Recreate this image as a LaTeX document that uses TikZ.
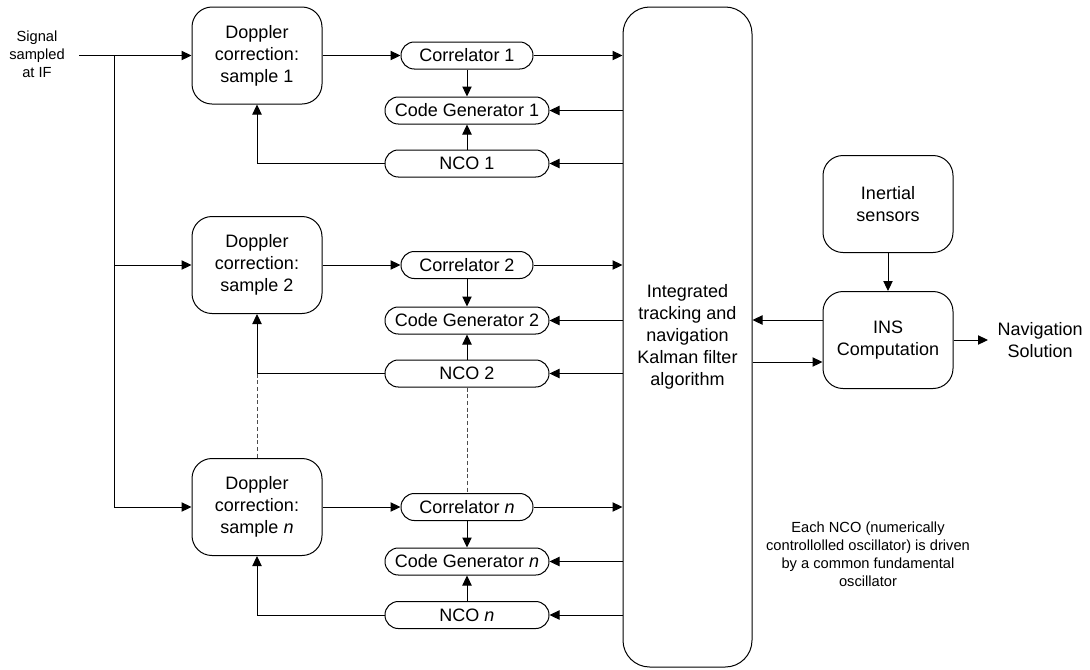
\documentclass[tikz,border=0pt]{standalone}
\usepackage{fontspec}
\setmainfont{Liberation Sans}
\usetikzlibrary{arrows.meta,calc}
\begin{document}
\begin{tikzpicture}[x=0.75pt,y=-0.75pt,
  line width=0.75pt,
  arr/.style={-{Triangle[length=7.5pt,width=7pt]}},
  bigfont/.style={font=\fontsize{13.5}{16.5}\selectfont},
  smallfont/.style={font=\fontsize{11}{13.5}\selectfont},
  rbox/.style={draw, rounded corners=15pt, minimum width=97.5pt, minimum height=72.75pt, align=center, inner sep=0pt, bigfont},
  pill/.style={draw, rounded corners=10pt, minimum height=20.25pt, inner sep=0pt, bigfont},
  dotl/.style={dashed, dash pattern=on 3pt off 2pt, draw=black!70, line width=0.6pt}]
\useasboundingbox (0,0) rectangle (1090,669);

% signal
\node[smallfont, align=center] (sig) at (37,54) {Signal\\sampled\\at IF};
\coordinate (sigstart) at (79,55.5);
\coordinate (br) at (114,55.5);

% Doppler boxes
\node[rbox] (d1) at (257,55.5) {Doppler\\correction:\\sample 1};
\node[rbox] (d2) at (257,265) {Doppler\\correction:\\sample 2};
\node[rbox] (dn) at (257,507) {Doppler\\correction:\\sample \textit{n}};

% channel 1
\node[pill, minimum width=99pt] (c1) at (467,55.5) {Correlator 1};
\node[pill, minimum width=123pt] (g1) at (467,110.5) {Code Generator 1};
\node[pill, minimum width=123pt] (n1) at (467,163.5) {NCO 1};
% channel 2
\node[pill, minimum width=99pt] (c2) at (467,265) {Correlator 2};
\node[pill, minimum width=123pt] (g2) at (467,320.5) {Code Generator 2};
\node[pill, minimum width=123pt] (n2) at (467,373.5) {NCO 2};
% channel n
\node[pill, minimum width=99pt] (cn) at (467,507) {Correlator \textit{n}};
\node[pill, minimum width=123pt] (gn) at (467,561.5) {Code Generator \textit{n}};
\node[pill, minimum width=123pt] (nn) at (467,615) {NCO \textit{n}};

% Kalman filter box
\node[draw, rounded corners=20pt, minimum width=96.75pt, minimum height=495pt, inner sep=0pt, align=center, bigfont] (kf) at (687.5,337) {Integrated\\tracking and\\navigation\\Kalman filter\\algorithm};

% INS
\node[rbox] (ine) at (888,204) {Inertial\\sensors};
\node[rbox] (ins) at (888,340) {INS\\Computation};
\node[bigfont, align=center, anchor=west, inner xsep=6.75pt, inner ysep=0pt] (nav) at (988,340) {Navigation\\Solution};

% note
\node[smallfont, align=center] (note) at (868,554) {Each NCO (numerically\\controllolled oscillator) is driven\\by a common fundamental\\oscillator};

% input distribution
\draw[arr] (sigstart) -- (d1);
\draw[arr] (br) |- (d2);
\draw[arr] (br) |- (dn);

% channel connections
\foreach \d/\c/\g/\n in {d1/c1/g1/n1, d2/c2/g2/n2, dn/cn/gn/nn}{
  \draw[arr] (\d) -- (\c);
  \draw[arr] (\c) -- (\c -| kf.west);
  \draw[arr] (\g -| kf.west) -- (\g);
  \draw[arr] (\n -| kf.west) -- (\n);
  \draw[arr] (\c) -- (\g);
  \draw[arr] (\n) -- (\g);
  \draw[arr] (\n.west) -| (\d.south);
}

% dotted continuations
\draw[dotl] (d2.south |- n2.west) -- (dn.north);
\draw[dotl] (n2.south) -- (cn.north);

% INS connections
\draw[arr] ([yshift=15pt]ins.west) -- ([yshift=15pt]ins.west -| kf.east);
\draw[arr] ([yshift=-16.5pt]ins.west -| kf.east) -- ([yshift=-16.5pt]ins.west);
\draw[arr] (ine) -- (ins);
\draw[arr] (ins) -- (nav.west);
\end{tikzpicture}
\end{document}
